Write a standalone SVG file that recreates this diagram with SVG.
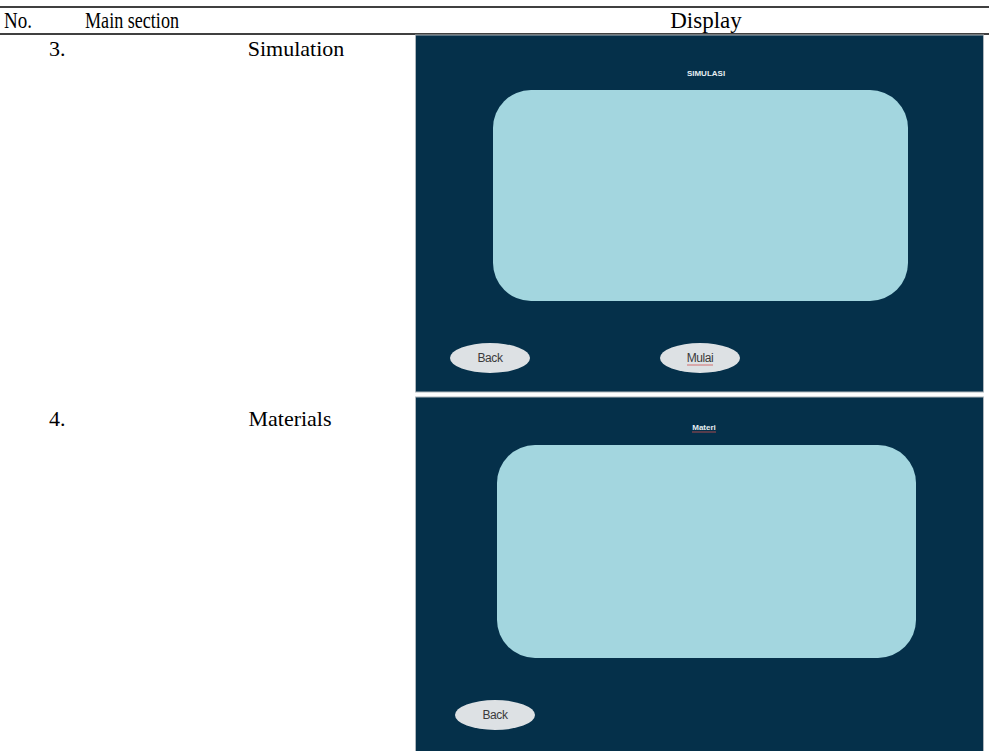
<svg xmlns="http://www.w3.org/2000/svg" width="989" height="751" viewBox="0 0 989 751">
<style>
.t{font-family:"Liberation Serif","Times New Roman",serif;font-size:22px;fill:#000}
.h{font-family:"Liberation Serif","Times New Roman",serif;font-size:23px;fill:#000}
.panel{fill:#05304a;stroke:#aeb6bc;stroke-width:1}
.screen{fill:#a3d6df}
.btn{fill:#dde1e4}
.bt{font-family:"Liberation Sans",Arial,sans-serif;font-size:12px;fill:#3a3a3a;text-anchor:middle;letter-spacing:-0.4px}
.ttl{font-family:"Liberation Sans",Arial,sans-serif;font-size:8px;font-weight:bold;fill:#e6eef2;text-anchor:middle}
.rule{stroke:#000;stroke-width:1.6}
</style>
<rect width="989" height="751" fill="#fff"/>
<g id="table-rules">
<line class="rule" x1="0" y1="7" x2="989" y2="7"/>
<line class="rule" x1="0" y1="34" x2="989" y2="34"/>
</g>
<g id="header">
<text class="h" x="4" y="28" textLength="28" lengthAdjust="spacingAndGlyphs">No.</text>
<text class="h" x="85" y="28" textLength="94" lengthAdjust="spacingAndGlyphs">Main section</text>
<text class="h" x="706" y="28" text-anchor="middle">Display</text>
</g>
<g id="row3">
<text class="t" x="49" y="56">3.</text>
<text class="t" x="296" y="56" text-anchor="middle">Simulation</text>
</g>
<g id="screen-simulasi">
<rect class="panel" x="415.5" y="35" width="568" height="357"/>
<text class="ttl" x="706" y="76">SIMULASI</text>
<rect class="screen" x="493" y="90" width="415" height="211" rx="38"/>
<ellipse class="btn" cx="490" cy="358" rx="40" ry="15"/>
<text class="bt" x="490" y="362">Back</text>
<ellipse class="btn" cx="700" cy="358" rx="40" ry="15"/>
<text class="bt" x="700" y="362">Mulai</text>
<line x1="687" y1="365" x2="713" y2="365" stroke="#d05050" stroke-width="0.8"/>
</g>
<g id="row4">
<text class="t" x="49" y="426">4.</text>
<text class="t" x="290" y="426" text-anchor="middle">Materials</text>
</g>
<g id="screen-materi">
<rect class="panel" x="415.5" y="397" width="568" height="355"/>
<text class="ttl" x="704" y="430">Materi</text>
<line x1="692" y1="432" x2="716" y2="432" stroke="#d05050" stroke-width="0.8"/>
<rect class="screen" x="497" y="445" width="419" height="213" rx="38"/>
<ellipse class="btn" cx="495" cy="715" rx="40" ry="15"/>
<text class="bt" x="495" y="719">Back</text>
</g>
</svg>
